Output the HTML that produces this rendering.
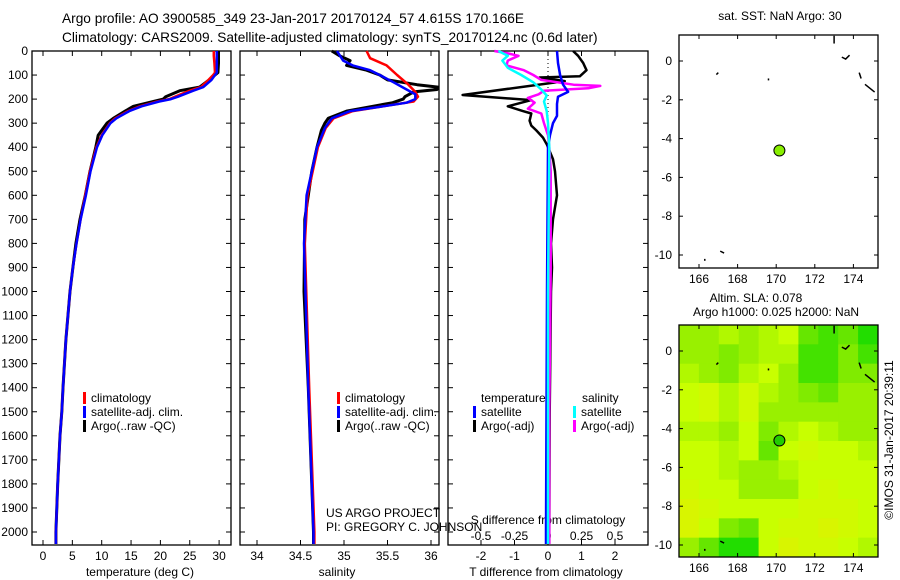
<!DOCTYPE html>
<html><head><meta charset="utf-8"><style>
body{margin:0;background:#fff;}
svg{display:block;font-family:"Liberation Sans",sans-serif;}
text{font-size:12px;fill:#000;}
.big{font-size:13.7px;}
</style></head><body>
<svg id="c" width="900" height="580" viewBox="0 0 900 580">
<text class="big" x="62" y="23">Argo profile: AO 3900585_349 23-Jan-2017 20170124_57 4.615S 170.166E</text>
<text class="big" x="62" y="42">Climatology: CARS2009. Satellite-adjusted climatology: synTS_20170124.nc (0.6d later)</text>
<text x="780" y="20" text-anchor="middle">sat. SST: NaN Argo: 30</text>
<text x="756" y="302" text-anchor="middle">Altim. SLA: 0.078</text>
<text x="776" y="316" text-anchor="middle">Argo h1000: 0.025 h2000: NaN</text>
<text transform="translate(893,440) rotate(-90)" text-anchor="middle">©IMOS 31-Jan-2017 20:39:11</text>
<text x="326" y="517">US ARGO PROJECT</text>
<text x="326" y="531">PI: GREGORY C. JOHNSON</text>
</svg>
<script>
// depth axis
const depthTicks=[0,100,200,300,400,500,600,700,800,900,1000,1100,1200,1300,1400,1500,1600,1700,1800,1900,2000];
// temperature profiles
const tDepth=[0,20,50,90,100,120,150,165,190,200,210,230,250,280,300,350,400,500,600,700,800,900,1000,1200,1400,1500,1600,1800,2000,2050];
const tArgo=[29.9,29.9,29.9,29.8,29.3,28.3,26.7,23.3,20.9,20.5,18.8,15.4,14.0,12.0,10.9,9.4,9.0,8.0,7.2,6.3,5.6,5.1,4.6,3.9,3.4,3.2,2.9,2.5,2.2,2.2];
const tClim=[29.1,29.1,29.2,29.3,29.0,28.2,26.9,25.0,22.5,21.5,19.5,16.5,14.5,12.3,11.4,10.0,9.1,8.0,7.2,6.4,5.7,5.1,4.6,3.9,3.4,3.2,2.9,2.5,2.2,2.2];
const tSat=[29.6,29.6,29.6,29.6,29.3,28.7,27.3,25.6,23.0,21.8,19.8,16.8,14.7,12.5,11.5,10.1,9.2,8.1,7.3,6.4,5.7,5.1,4.6,3.9,3.4,3.2,2.9,2.5,2.2,2.2];
const tTicks=[0,5,10,15,20,25,30];
// salinity profiles
const sArgoD=[0,20,40,60,80,100,120,140,150,160,170,190,200,215,230,250,280,300,330,400,500,600,700,1000,1400,2000,2050];
const sArgo=[34.86,34.95,35.07,35.03,35.26,35.41,35.5,35.84,36.08,36.07,35.8,35.7,35.68,35.56,35.33,35.03,34.82,34.78,34.74,34.69,34.63,34.59,34.55,34.54,34.59,34.65,34.65];
const sClimD=[0,30,60,100,140,170,190,210,230,250,280,320,400,600,800,1400,2000,2050];
const sClim=[35.26,35.3,35.49,35.61,35.74,35.82,35.85,35.8,35.45,35.1,34.88,34.79,34.7,34.58,34.55,34.6,34.66,34.66];
const sSatD=[0,40,60,80,100,130,160,180,200,215,230,250,280,320,400,600,800,1400,2000,2050];
const sSat=[34.92,34.99,35.1,35.3,35.41,35.57,35.72,35.82,35.82,35.72,35.45,35.07,34.86,34.78,34.69,34.57,34.54,34.59,34.65,34.65];
const sTicks=[34,34.5,35,35.5,36];
// difference profiles
const dTSatD=[0,50,100,140,170,190,220,270,300,350,400,1000,2000,2050];
const dTSat=[0.27,0.3,0.36,0.45,0.6,0.3,0.27,0.27,0.15,0.06,0,-0.03,-0.06,-0.06];
const dTArgoD=[0,20,50,80,105,110,125,183,204,230,250,260,290,310,330,360,390,420,450,500,600,700,800,900,1000,1500,2000,2050];
const dTArgo=[0.75,0.9,1.05,1.15,0.95,-0.25,0.5,-2.55,-0.5,-1.2,-0.75,-0.5,-0.55,-0.5,-0.35,-0.15,-0.03,0.06,0.15,0.21,0.27,0.15,0.09,0.12,0.09,0.05,0.04,0.04];
const dSArgoD=[0,10,20,40,60,80,100,120,140,145,155,165,180,195,215,240,260,300,350,400,500,900,1500,2050];
const dSArgo=[-0.4,-0.3,-0.22,-0.3,-0.31,-0.18,-0.11,-0.05,0.19,0.39,0.3,-0.03,-0.07,-0.15,-0.1,-0.15,-0.05,-0.03,0,0.01,0.02,0.02,0.01,0.01];
const dSSatD=[0,20,40,70,100,130,160,185,210,250,300,400,1000,2050];
const dSSat=[-0.37,-0.3,-0.34,-0.3,-0.2,-0.11,-0.05,-0.01,-0.03,-0.01,0,0.01,0,0];
const dTTicks=[-2,-1,0,1,2];
const dSTicks=[-0.5,-0.25,0,0.25,0.5];
const dSLabels=["-0.5","-0.25","0","0.25","0.5"];
// map
const lonTicks=[166,168,170,172,174];
const latTicks=[0,-2,-4,-6,-8,-10];
const argoLon=170.166, argoLat=-4.615;
const slaGrid=[
[.5,.5,.4,.5,.4,.3,.7,.8,.7,.9],
[.5,.5,.6,.5,.4,.4,.8,.8,.6,.8],
[.4,.5,.6,.4,.3,.5,.8,.8,.6,.6],
[.3,.2,.4,.2,.4,.5,.6,.7,.5,.5],
[.3,.2,.4,.2,.5,.5,.5,.5,.5,.5],
[.4,.4,.5,.3,.6,.4,.3,.4,.5,.5],
[.3,.3,.4,.3,.7,.3,.2,.3,.3,.4],
[.3,.3,.4,.5,.5,.4,.3,.3,.3,.3],
[.2,.3,.3,.5,.5,.5,.3,.2,.3,.3],
[.1,.2,.3,.3,.3,.3,.2,.2,.2,.3],
[.1,.3,.6,.7,.3,.2,.2,.1,.2,.3],
[.5,.7,.9,.9,.3,.1,.2,.2,.3,.4]];

const svg=document.getElementById('c');
const NS='http://www.w3.org/2000/svg';
function mk(tag,attrs,parent){const e=document.createElementNS(NS,tag);for(const k in attrs)e.setAttribute(k,attrs[k]);(parent||svg).appendChild(e);return e;}
const yD=d=>51+0.2405*d;
const xT=t=>43+5.87*t;
const xS=s=>257+87*(s-34);
const xdT=v=>548+33.5*v;
const xdS=v=>548+134*v;

function panel(x0,x1,name){
  const r=mk('rect',{x:x0,y:51,width:x1-x0,height:494,fill:'none',stroke:'#000','stroke-width':1.3});
  
  
  depthTicks.forEach(d=>{
    mk('line',{x1:x0,x2:x0+5,y1:yD(d),y2:yD(d),stroke:'#000'});
    mk('line',{x1:x1,x2:x1-5,y1:yD(d),y2:yD(d),stroke:'#000'});
  });
}
function line(xs,ds,fx,color,w,name){
  const pts=xs.map((v,i)=>fx(v).toFixed(1)+','+yD(ds[i]).toFixed(1)).join(' ');
  const p=mk('polyline',{points:pts,fill:'none',stroke:color,'stroke-width':w,'stroke-linejoin':'round'});
  
  
}
function txt(x,y,s,anchor,name){const t=mk('text',{x:x,y:y,'text-anchor':anchor||'start'});t.textContent=s;
  
  
  return t;}

// depth labels
depthTicks.forEach(d=>{txt(28,yD(d)+4,String(d),'end','depth-tick-label');});

// panel 1 temperature
panel(32,231,'temperature-panel');
tTicks.forEach(t=>{mk('line',{x1:xT(t),x2:xT(t),y1:545,y2:540,stroke:'#000'});mk('line',{x1:xT(t),x2:xT(t),y1:51,y2:56,stroke:'#000'});txt(xT(t),560,String(t),'middle','temperature-tick-label');});
txt(140,576,'temperature (deg C)','middle','x-axis-title-temperature');
line(tArgo,tDepth,xT,'#000',3,'argo-temperature-line');
line(tClim,tDepth,xT,'#f00',2.5,'climatology-temperature-line');
line(tSat,tDepth,xT,'#00f',2.5,'satellite-temperature-line');

// panel 2 salinity
panel(240,439,'salinity-panel');
sTicks.forEach(s=>{mk('line',{x1:xS(s),x2:xS(s),y1:545,y2:540,stroke:'#000'});mk('line',{x1:xS(s),x2:xS(s),y1:51,y2:56,stroke:'#000'});txt(xS(s),560,String(s),'middle','salinity-tick-label');});
txt(337,576,'salinity','middle','x-axis-title-salinity');
line(sArgo,sArgoD,xS,'#000',3,'argo-salinity-line');
line(sClim,sClimD,xS,'#f00',2.5,'climatology-salinity-line');
line(sSat,sSatD,xS,'#00f',2.5,'satellite-salinity-line');

// panel 3 differences
panel(448,648,'difference-panel');
mk('line',{x1:548,x2:548,y1:51,y2:545,stroke:'#000','stroke-dasharray':'1,3'});
dTTicks.forEach(v=>{mk('line',{x1:xdT(v),x2:xdT(v),y1:545,y2:540,stroke:'#000'});txt(xdT(v),560,String(v),'middle','t-diff-tick-label');});
dSTicks.forEach((v,i)=>{mk('line',{x1:xdS(v),x2:xdS(v),y1:51,y2:56,stroke:'#000'});txt(xdS(v),540,dSLabels[i],'middle','s-diff-tick-label');});
txt(548,524,'S difference from climatology','middle','s-diff-axis-title');
txt(546,576,'T difference from climatology','middle','t-diff-axis-title');
line(dTArgo,dTArgoD,xdT,'#000',2.5,'argo-t-diff-line');
line(dSArgo,dSArgoD,xdS,'#f0f',2.5,'argo-s-diff-line');
line(dTSat,dTSatD,xdT,'#00f',2.5,'satellite-t-diff-line');
line(dSSat,dSSatD,xdS,'#0ff',2.5,'satellite-s-diff-line');

// legends
function leg(x,y,color,label,name){const r=mk('rect',{x:x,y:y-10,width:3,height:12,fill:color});
  
  
  txt(x+8,y,label,'start',name);}
[['#f00','climatology'],['#00f','satellite-adj. clim.'],['#000','Argo(..raw -QC)']].forEach((e,i)=>{leg(83,402+14*i,e[0],e[1],'legend-entry');leg(337,402+14*i,e[0],e[1],'legend-entry');});
txt(481,402,'temperature','start','legend-header-temperature');
txt(582,402,'salinity','start','legend-header-salinity');
leg(473,416,'#00f','satellite','legend-entry');
leg(473,430,'#000','Argo(-adj)','legend-entry');
leg(573,416,'#0ff','satellite','legend-entry');
leg(573,430,'#f0f','Argo(-adj)','legend-entry');

// maps
function mapAxes(top,bottom,lat0y,name,fillCells){
  const xL=v=>699+19.3*(v-166);
  const yL=v=>lat0y-19.4*v;
  if(fillCells){
    const stops=[[0,[224,240,0]],[0.3,[200,255,0]],[0.5,[153,240,0]],[0.7,[102,230,0]],[0.9,[34,221,0]],[1,[20,210,0]]];
    const col=v=>{for(let i=1;i<stops.length;i++){if(v<=stops[i][0]){const a=stops[i-1],b=stops[i];const f=(v-a[0])/(b[0]-a[0]);return 'rgb('+a[1].map((c,k)=>Math.round(c+(b[1][k]-c)*f)).join(',')+')';}}return 'rgb(20,210,0)';};
    const rows=slaGrid.length, cols=slaGrid[0].length;
    const cw=(878-679)/cols, ch=(bottom-top)/rows;
    slaGrid.forEach((row,r)=>row.forEach((v,c)=>{const e=mk('rect',{x:679+c*cw,y:top+r*ch,width:cw+0.5,height:ch+0.5,fill:col(v)});
      
      }));
  }
  const r=mk('rect',{x:679,y:top,width:199,height:bottom-top,fill:'none',stroke:'#000','stroke-width':1.3});
  
  
  lonTicks.forEach(v=>{mk('line',{x1:xL(v),x2:xL(v),y1:bottom,y2:bottom-4,stroke:'#000'});mk('line',{x1:xL(v),x2:xL(v),y1:top,y2:top+4,stroke:'#000'});txt(xL(v),bottom+15,String(v),'middle','lon-tick-label');});
  latTicks.forEach(v=>{mk('line',{x1:679,x2:683,y1:yL(v),y2:yL(v),stroke:'#000'});mk('line',{x1:878,x2:874,y1:yL(v),y2:yL(v),stroke:'#000'});txt(672,yL(v)+4,String(v),'end','lat-tick-label');});
  // coast fragments
  [[[173,1.3],[173,0.9]],[[173.4,0.2],[173.6,0.1],[173.8,0.3]],[[174.3,-0.6],[174.4,-0.9]],[[174.6,-1.2],[175.1,-1.6]],[[167,-0.6],[166.9,-0.7]],[[169.6,-0.9],[169.6,-1.0]],[[167.1,-9.8],[167.3,-9.9]],[[166.3,-10.2],[166.3,-10.3]]].forEach(seg=>{
    const p=mk('polyline',{points:seg.map(q=>xL(q[0])+','+yL(q[1])).join(' '),fill:'none',stroke:'#000','stroke-width':1.5});
    
    
  });
  const c=mk('circle',{cx:xL(argoLon),cy:yL(argoLat),r:5.5,fill:fillCells?'#22cc00':'#88ee00',stroke:'#000','stroke-width':1});
  
  
}
mapAxes(35,268,61,'sst-map',false);
mapAxes(325,557,351,'sla-map',true);
</script>
</body></html>
